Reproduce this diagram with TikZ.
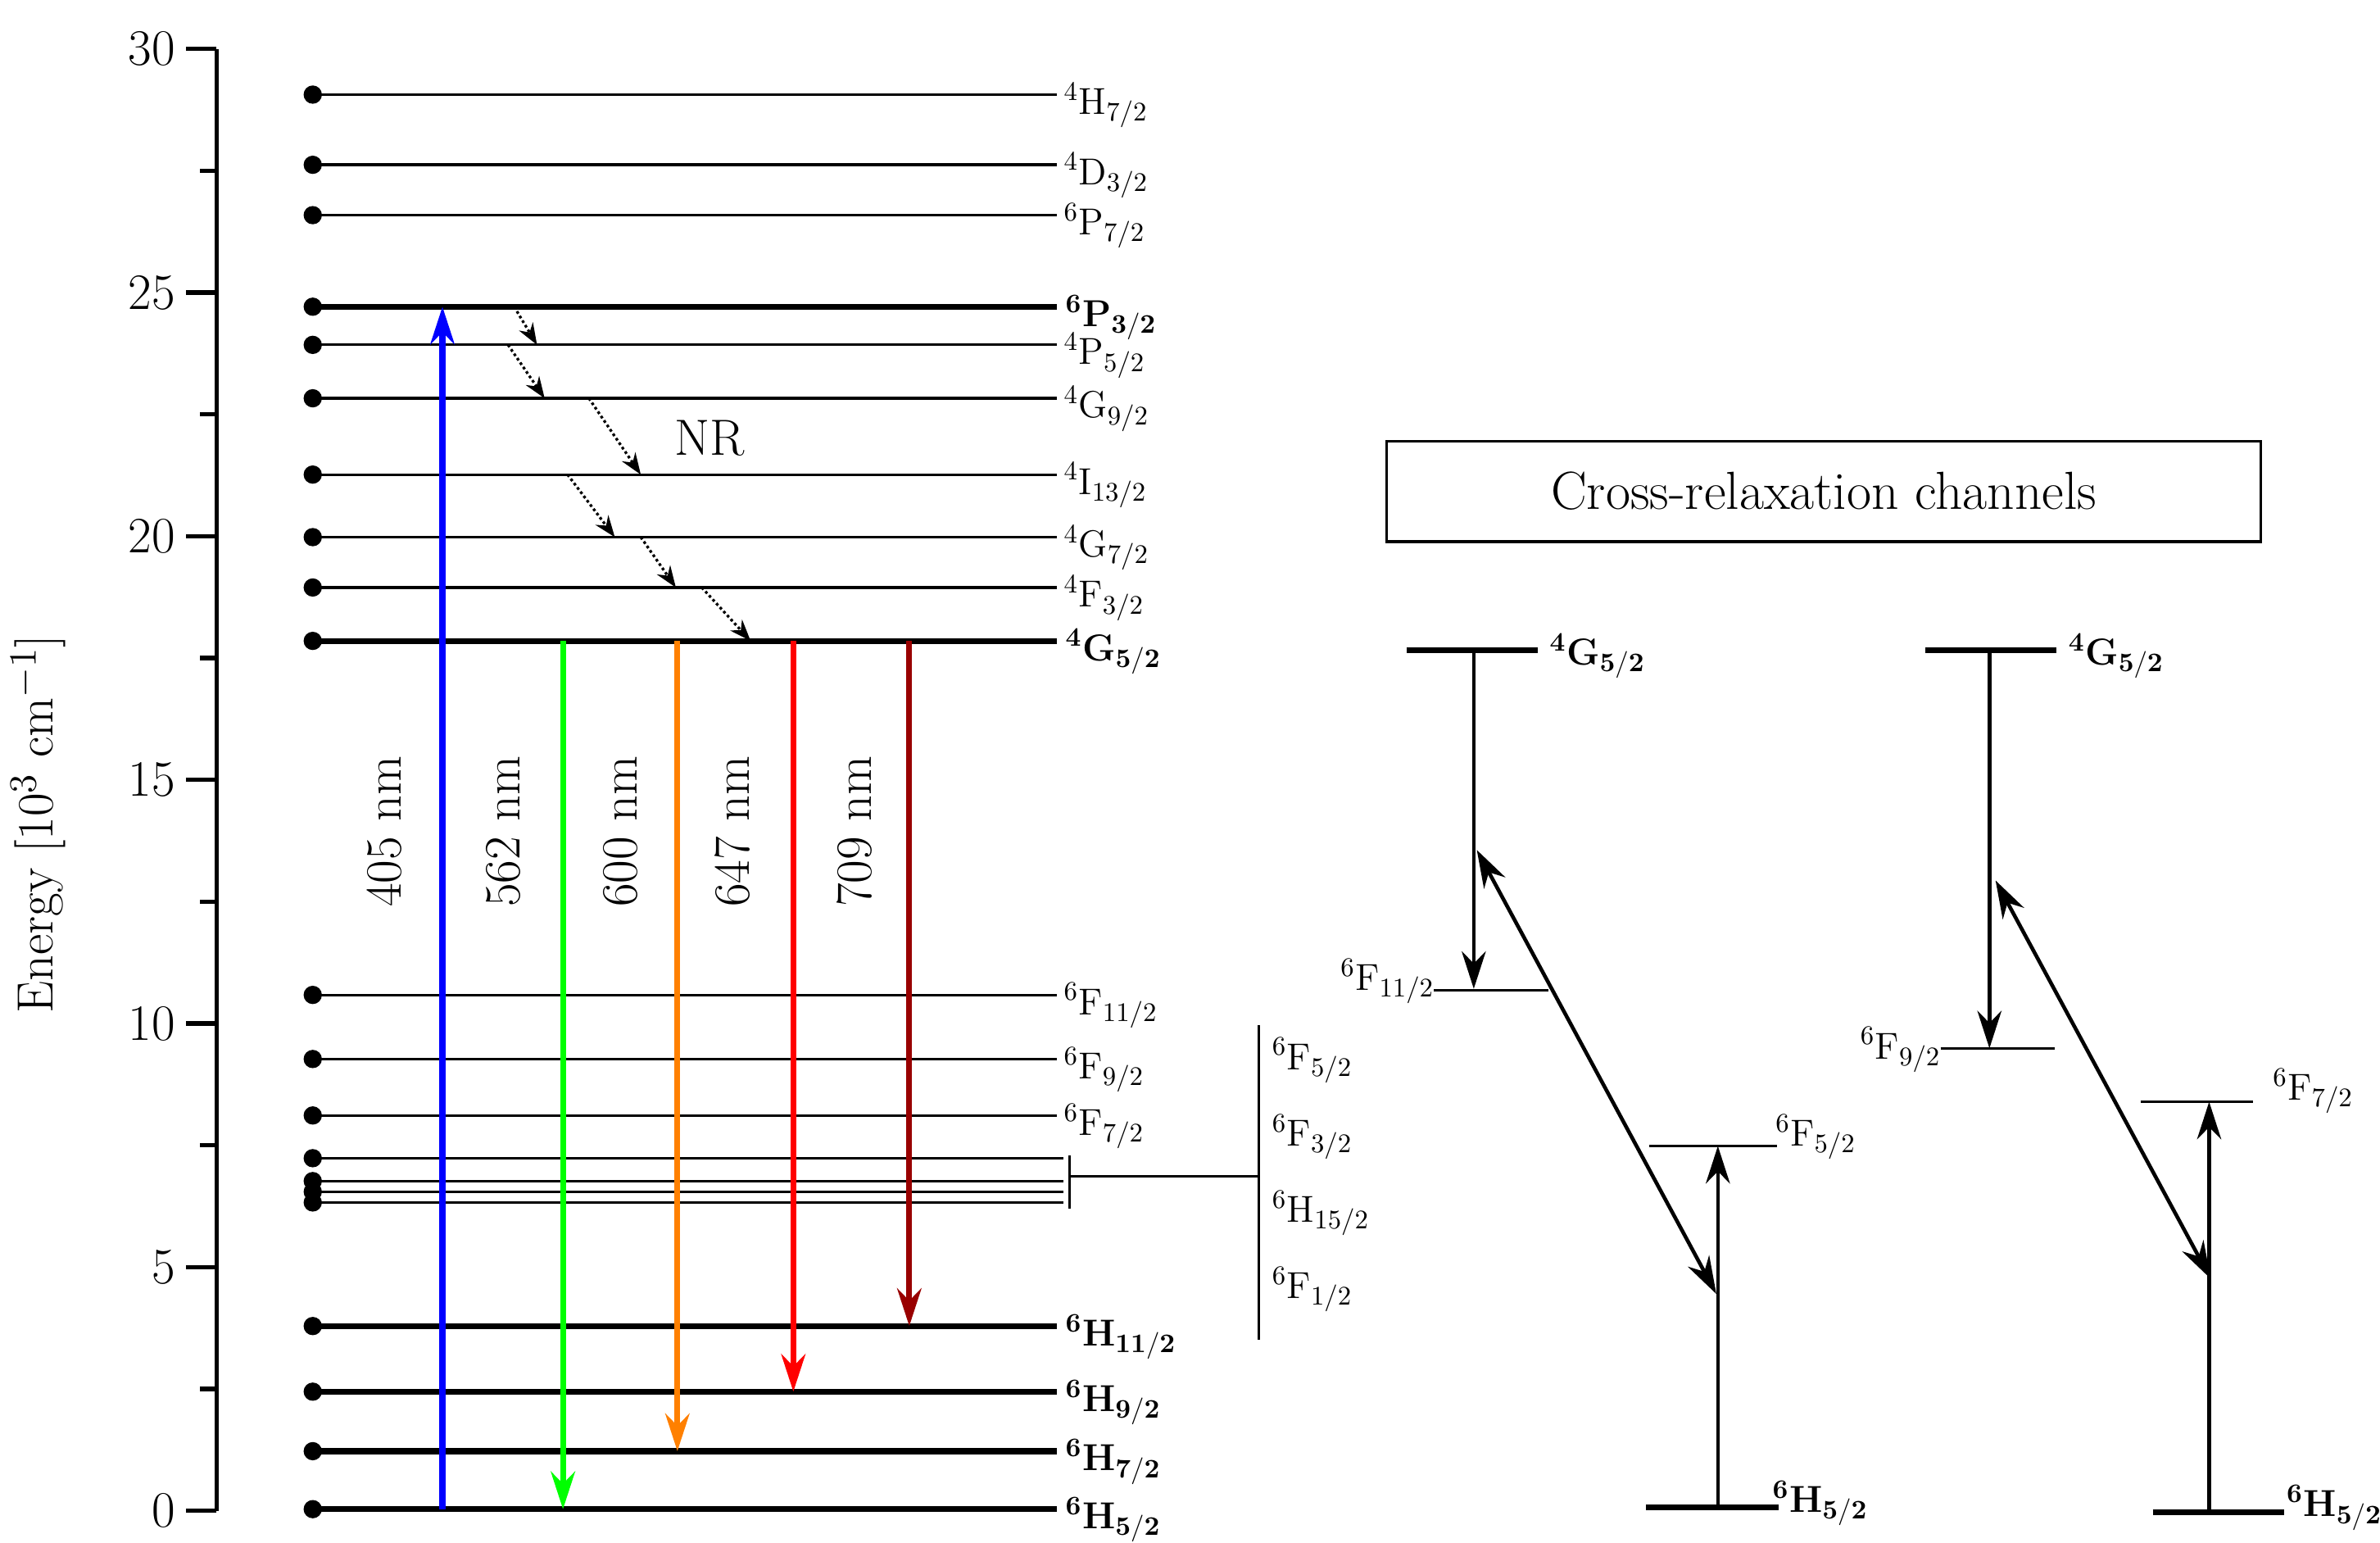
\documentclass[tikz,border=0pt]{standalone}
\usetikzlibrary{arrows.meta,positioning}
\newcommand{\term}[3]{$^{#1}$#2$_{#3}$}
\newcommand{\bterm}[3]{\textbf{$^{\mathbf{#1}}$#2$_{\mathbf{#3}}$}}
\tikzset{>={Stealth[length=14pt,width=9pt]},
lvl/.style={line width=1pt},
blvl/.style={line width=2.2pt},
tr/.style={->,line width=2.2pt},
nr/.style={->,densely dotted,line width=1pt,>={Stealth[length=8pt,width=6pt]}},
cr/.style={->,line width=1.4pt},
lab/.style={font=\fontsize{14}{16}\selectfont,anchor=west,inner sep=2pt},
blab/.style={lab,font=\fontsize{14}{16}\selectfont\bfseries},
}
\begin{document}
\begin{tikzpicture}[x=0.02cm,y=-0.02cm]
\useasboundingbox (0,0) rectangle (1560,1011);
% axis
\draw[line width=1.6pt] (142,32) coordinate (ytop) -- (142,990) coordinate (ybot);
\foreach \e in {0,5,...,30}{
  \draw[line width=1.6pt] (142,990-31.93*\e) -- ++(-20,0)
    node[left,font=\fontsize{19}{20}\selectfont] {\e};}
\foreach \e in {2.5,7.5,...,27.5}
  \draw[line width=1.6pt] (142,990-31.93*\e) -- ++(-11,0);
\node[rotate=90,font=\fontsize{19}{20}\selectfont] at (25,540) {Energy [10$^3$ cm$^{-1}$]};
% thin levels
\foreach \y/\n/\m/\l/\s in {62/hsev/4/H/{7/2},108/dthr/4/D/{3/2},141/psev/6/P/{7/2},
  226/pfiv/4/P/{5/2},261/gnin/4/G/{9/2},311/ithi/4/I/{13/2},352/gsev/4/G/{7/2},
  385/fthr/4/F/{3/2},652/fele/6/F/{11/2},694/fnin/6/F/{9/2},731/fsev/6/F/{7/2}}{
  \fill (205,\y) circle (6);
  \draw[lvl] (205,\y) coordinate (\n) -- (693,\y) node[lab,yshift=-4pt] {\term{\m}{\l}{\s}};}
\foreach \y in {759,774,781,788}{
  \fill (205,\y) circle (6);
  \draw[lvl] (205,\y) -- (697,\y);}
% thick levels
\foreach \y/\n/\m/\l/\s in {201/pthr/6/P/{3/2},420/gfiv/4/G/{5/2},869/hele/6/H/{11/2},
  912/hnin/6/H/{9/2},951/hsv/6/H/{7/2},989/hfiv/6/H/{5/2}}{
  \fill (205,\y) circle (6);
  \draw[blvl] (205,\y) coordinate (\n) -- (693,\y) node[blab,yshift=-4pt] {\bterm{\m}{\l}{\s}};}
% bracket
\draw[lvl] (701,757) coordinate (bt) -- (701,792) coordinate (bb);
\draw[lvl] (701,771) coordinate (bm) -- (825,771) coordinate (bx);
\draw[lvl] (825,672) -- (825,878);
\foreach \y/\t/\s in {695/F/{5/2},745/F/{3/2},795/H/{15/2},845/F/{1/2}}
  \node[lab] at (830,\y) {\term{6}{\t}{\s}};
% optical transitions
\draw[tr,blue] (290,989) coordinate (ua) -- (290,201) coordinate (ub);
\draw[tr,green] (369,420) coordinate (ga) -- (369,989) coordinate (gb);
\draw[tr,orange] (444,420) coordinate (oa) -- (444,951) coordinate (ob);
\draw[tr,red] (520,420) coordinate (ra) -- (520,912) coordinate (rb);
\draw[tr,red!60!black] (596,420) coordinate (da) -- (596,869) coordinate (db);
\foreach \x/\w in {252/405,330/562,407/600,480/647,560/709}
  \node[rotate=90,font=\fontsize{19}{20}\selectfont] at (\x,545) {\w~nm};
% non-radiative
\draw[nr] (337,201) coordinate (n1) -- (352,226) coordinate (n2);
\draw[nr] (333,226) coordinate (n3) -- (357,261) coordinate (n4);
\draw[nr] (386,261) coordinate (n5) -- (420,311) coordinate (n6);
\draw[nr] (372,311) coordinate (n7) -- (403,352) coordinate (n8);
\draw[nr] (420,352) coordinate (n9) -- (443,385) coordinate (n10);
\draw[nr] (460,385) coordinate (n11) -- (492,420) coordinate (n12);
\node[font=\fontsize{19}{20}\selectfont] at (465,287) {NR};
% cross-relaxation
\node[draw,line width=1pt,minimum width=11.46cm,minimum height=1.32cm,
  font=\fontsize{20}{22}\selectfont] (crbox) at (1195.5,322) {Cross-relaxation channels};
% channel 1
\draw[blvl] (922,426) -- (1008,426);
\node[blab] at (1012,430) {\bterm{4}{G}{5/2}};
\draw[lvl] (940,649) -- (1015,649);
\node[lab,anchor=east] at (944,643) {\term{6}{F}{11/2}};
\draw[lvl] (1081,751) -- (1165,751);
\node[lab] at (1160,745) {\term{6}{F}{5/2}};
\draw[blvl] (1079,988) -- (1166,988);
\node[blab] at (1158,985) {\bterm{6}{H}{5/2}};
\draw[cr] (966,426) coordinate (c1a) -- (966,648) coordinate (c1b);
\draw[cr] (1126,988) coordinate (c1c) -- (1126,751) coordinate (c1d);
\draw[cr,<->] (968,557) coordinate (c1e) -- (1125,848) coordinate (c1f);
% channel 2
\draw[blvl] (1262,426) -- (1348,426);
\node[blab] at (1352,430) {\bterm{4}{G}{5/2}};
\draw[lvl] (1272,687) -- (1347,687);
\node[lab,anchor=east] at (1276,688) {\term{6}{F}{9/2}};
\draw[lvl] (1403,722) -- (1477,722);
\node[lab] at (1486,715) {\term{6}{F}{7/2}};
\draw[blvl] (1411,991) -- (1497,991);
\node[blab] at (1495,988) {\bterm{6}{H}{5/2}};
\draw[cr] (1304,426) coordinate (c2a) -- (1304,687) coordinate (c2b);
\draw[cr] (1448,991) coordinate (c2c) -- (1448,722) coordinate (c2d);
\draw[cr,<->] (1308,577) coordinate (c2e) -- (1449,838) coordinate (c2f);
\end{tikzpicture}
\end{document}
